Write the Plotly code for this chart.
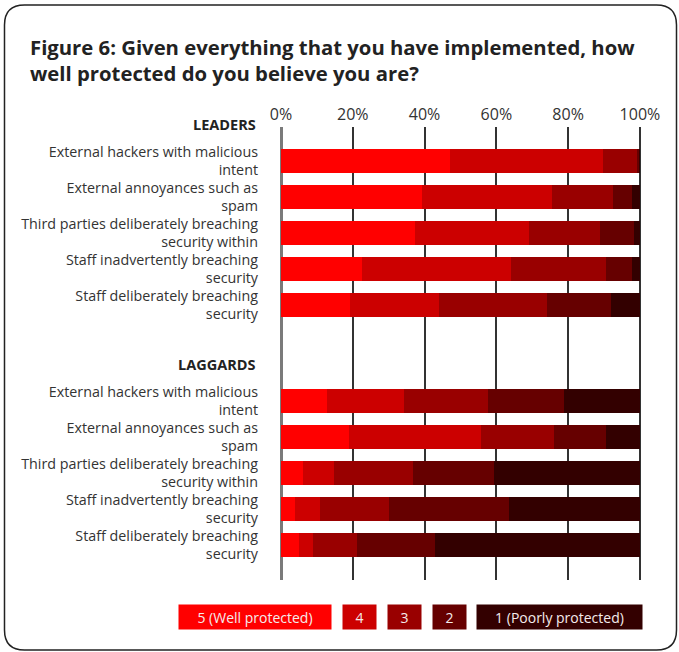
import plotly.graph_objects as go

# ---------------- data ----------------
levels = ["5 (Well protected)", "4", "3", "2", "1 (Poorly protected)"]
colors = ["#FF0000", "#CC0000", "#990000", "#660000", "#330000"]
categories = [
    "External hackers with malicious<br>intent",
    "External annoyances such as<br>spam",
    "Third parties deliberately breaching<br>security within",
    "Staff inadvertently breaching<br>security",
    "Staff deliberately breaching<br>security",
]
groups = ["LEADERS", "LAGGARDS"]
x_ticks = [0, 20, 40, 60, 80, 100]
x_ticktext = ["0%", "20%", "40%", "60%", "80%", "100%"]

leaders_5 = [47.2, 39.2, 37.2, 22.5, 19.2]
leaders_4 = [42.5, 36.3, 31.9, 41.7, 24.7]
leaders_3 = [9.6, 17.0, 19.8, 26.4, 30.3]
leaders_2 = [0.5, 5.3, 9.4, 7.2, 17.7]
leaders_1 = [0.2, 2.2, 1.7, 2.2, 8.1]

laggards_5 = [12.8, 18.9, 6.1, 3.9, 5.0]
laggards_4 = [21.4, 36.7, 8.6, 6.9, 3.9]
laggards_3 = [23.6, 20.5, 22.2, 19.2, 12.2]
laggards_2 = [21.1, 14.5, 22.5, 33.6, 21.7]
laggards_1 = [21.1, 9.4, 40.6, 36.4, 57.2]

leaders = [leaders_5, leaders_4, leaders_3, leaders_2, leaders_1]
laggards = [laggards_5, laggards_4, laggards_3, laggards_2, laggards_1]

# ---------------- layout helpers ----------------
W, H = 679, 652
L, R, T, B = 281, 38, 127, 72
PW, PH = W - L - R, H - T - B
FONT = "'Open Sans', sans-serif"
TXT = "#333333"
ROW_PX = 36.0
Y_TOP = -0.944  # axis value at the plot's top edge

def px2x(px):
    return (px - L) / PW

def py2y(py):
    return (H - B - py) / PH

group_offsets = [0, 6.667]
n = len(categories)

fig = go.Figure()
tickvals, ticktext = [], []
for g, (gname, off, gdata) in enumerate(zip(groups, group_offsets, [leaders, laggards])):
    ys = [off + i for i in range(n)]
    tickvals += ys
    ticktext += categories
    for lvl, col, vals in zip(levels, colors, gdata):
        fig.add_trace(go.Bar(
            x=vals, y=ys, orientation="h", width=0.69,
            marker=dict(color=col, line=dict(width=0)),
            name=lvl, showlegend=False,
        ))
    # group header one row above the group's first bar
    header_py = T + (off - 1 - Y_TOP) * ROW_PX
    fig.add_annotation(
        xref="paper", yref="paper", x=px2x(258), y=py2y(header_py),
        xanchor="right", yanchor="middle", showarrow=False,
        text=f"<b>{gname}</b>", font=dict(family=FONT, size=14.5, color="#222222"),
    )

fig.update_layout(
    width=W, height=H,
    margin=dict(l=L, r=R, t=T, b=B, pad=0),
    barmode="stack",
    paper_bgcolor="white", plot_bgcolor="white",
    font=dict(family=FONT, color=TXT, size=14),
    title=dict(
        text="<b>Figure 6: Given everything that you have implemented, how<br>well protected do you believe you are?</b>",
        x=30 / W, xref="container", xanchor="left",
        y=1 - 55 / H, yref="container", yanchor="middle",
        font=dict(family=FONT, size=20.3, color="#222222"),
    ),
    xaxis=dict(
        range=[0, 100.3], side="top", tickvals=x_ticks, ticktext=x_ticktext,
        showgrid=True, gridcolor="#333333", gridwidth=1.5,
        zeroline=True, zerolinecolor="#7a7a7a", zerolinewidth=2.5,
        showline=False, ticks="", tickfont=dict(size=16, color=TXT),
        ticklabelstandoff=3, fixedrange=True,
    ),
    yaxis=dict(
        range=[11.64, Y_TOP], tickvals=tickvals, ticktext=ticktext,
        showgrid=False, zeroline=False, showline=False, ticks="",
        tickfont=dict(size=14.3, color=TXT), ticklabelstandoff=22,
        fixedrange=True,
    ),
)

# rounded border
x0, y0, x1, y1, r = 4.5, 5, 676.5, 650, 20
pts = lambda px, py: f"{px2x(px):.5f},{py2y(py):.5f}"
path = (f"M {pts(x0 + r, y0)} L {pts(x1 - r, y0)} Q {pts(x1, y0)} {pts(x1, y0 + r)} "
        f"L {pts(x1, y1 - r)} Q {pts(x1, y1)} {pts(x1 - r, y1)} "
        f"L {pts(x0 + r, y1)} Q {pts(x0, y1)} {pts(x0, y1 - r)} "
        f"L {pts(x0, y0 + r)} Q {pts(x0, y0)} {pts(x0 + r, y0)} Z")
fig.add_shape(type="path", path=path, xref="paper", yref="paper",
              line=dict(color="#222222", width=1.5), fillcolor="rgba(0,0,0,0)", layer="below")

# custom legend boxes
box_left = [178, 342, 387, 432, 476]
box_right = [330, 375, 420, 465, 641]
for lvl, col, bl, br in zip(levels, colors, box_left, box_right):
    fig.add_annotation(
        xref="paper", yref="paper", x=px2x(bl), y=py2y(617),
        xanchor="left", yanchor="middle", showarrow=False,
        text=lvl, width=br - bl, height=24, borderpad=0,
        bgcolor=col, font=dict(family=FONT, size=14, color="#f4ecec"), align="center",
    )

fig.write_html("out.html")
